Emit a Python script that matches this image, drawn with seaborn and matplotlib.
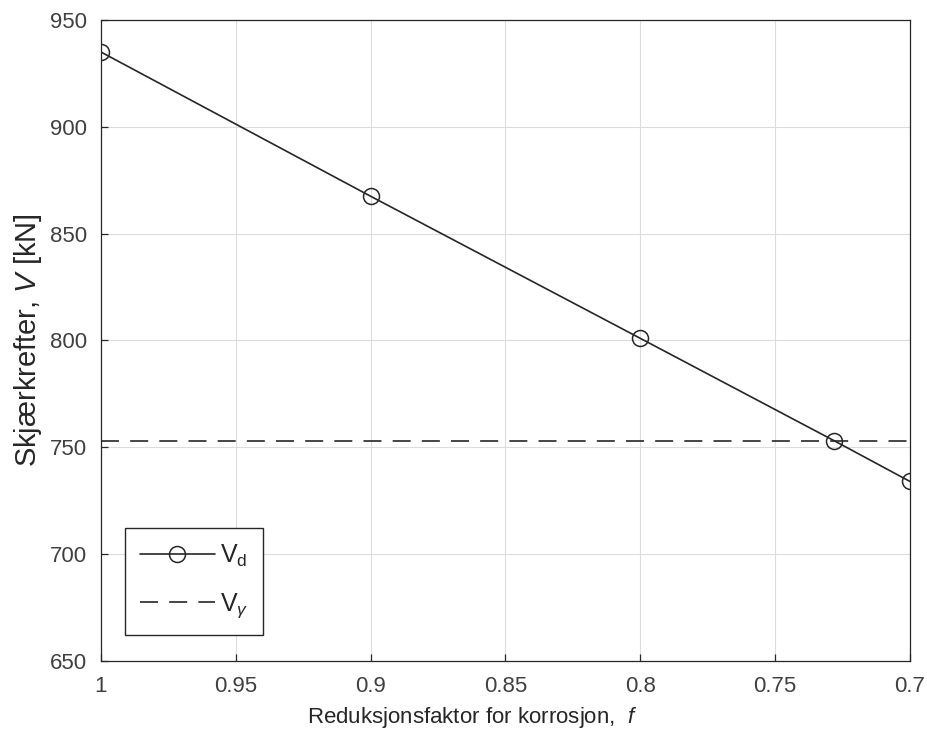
import matplotlib
matplotlib.use("Agg")
import matplotlib.pyplot as plt
import seaborn as sns
import pandas as pd

f_vals = [1.0, 0.9, 0.8, 0.728, 0.7]
V_d = [935, 867.5, 801, 753, 734]
V_gamma = 753
x_ticks = [1, 0.95, 0.9, 0.85, 0.8, 0.75, 0.7]
x_tick_labels = ["1", "0.95", "0.9", "0.85", "0.8", "0.75", "0.7"]
y_ticks = [650, 700, 750, 800, 850, 900, 950]

sns.set_theme(style="whitegrid")
plt.rcParams['font.family'] = ['Liberation Sans', 'DejaVu Sans']
plt.rcParams['mathtext.fontset'] = 'custom'
plt.rcParams['mathtext.rm'] = 'Liberation Sans'
plt.rcParams['mathtext.it'] = 'Liberation Sans:italic'

df = pd.DataFrame({"f": f_vals, "V": V_d})

fig = plt.figure(figsize=(9.28, 7.4), dpi=100)
ax = fig.add_axes([0.1088, 0.1068, 0.8718, 0.8662])

sns.lineplot(data=df, x="f", y="V", ax=ax, color="#262626", linewidth=1.2,
             marker="o", markersize=11.5, markerfacecolor="none",
             markeredgecolor="#262626", markeredgewidth=1.1,
             label=r"V$_{\mathrm{d}}$")
ax.axhline(V_gamma, color="#262626", linestyle=(0, (10.8, 6.7)), linewidth=1.2,
           label=r"V$_\gamma$")

ax.set_xlim(1, 0.7)
ax.set_ylim(650, 950)
ax.set_xticks(x_ticks)
ax.set_xticklabels(x_tick_labels)
ax.set_yticks(y_ticks)

ax.set_facecolor("white")
ax.grid(True, color="#dcdcdc", linewidth=0.8)
for s in ax.spines.values():
    s.set_visible(True)
    s.set_color("#262626")
    s.set_linewidth(0.9)

ax.tick_params(axis="both", direction="in", length=5, width=0.9, colors="#262626",
               labelsize=16, labelcolor="#404040", bottom=True, left=True,
               top=False, right=False)
ax.tick_params(axis="x", pad=11)
ax.tick_params(axis="y", pad=10)
ax.set_xlabel(r"Reduksjonsfaktor for korrosjon,  $f$", fontsize=16, color="#262626")
ax.xaxis.set_label_coords(0.4586, -0.068)
ax.set_ylabel(r"Skjærkrefter, $V$ [kN]", fontsize=21, color="#262626", labelpad=4)

leg = ax.legend(loc="lower left", bbox_to_anchor=(0.0297, 0.0406), borderaxespad=0,
                fontsize=18, frameon=True, fancybox=False, edgecolor="#262626",
                handlelength=3.0, handletextpad=0.2, borderpad=0.6,
                labelspacing=0.9, framealpha=1)
leg.get_frame().set_linewidth(1.0)

fig.savefig("out.png", dpi=100)
